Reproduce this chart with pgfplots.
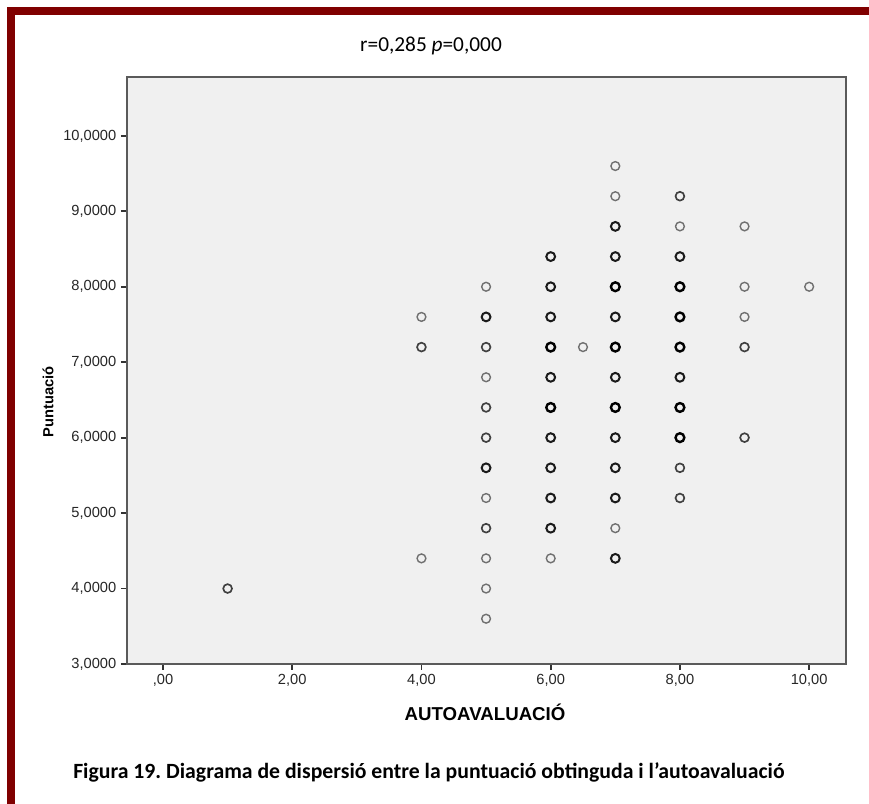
\documentclass[border=0pt]{standalone}
\usepackage{pgfplots}
\pgfplotsset{compat=1.18}
\usepackage{fontspec}
\setmainfont{Liberation Sans}
\newfontfamily\carlito{Carlito}
\definecolor{framered}{HTML}{800000}
\definecolor{bgc}{HTML}{F0F0F0}
\definecolor{axc}{HTML}{5A5A5A}
\definecolor{lightm}{HTML}{707070}
\definecolor{medm}{HTML}{404040}
\definecolor{darkm}{HTML}{1A1A1A}
\frenchspacing
\begin{document}
\begin{tikzpicture}
\useasboundingbox (0,0) rectangle (651.75pt,603pt);
\fill[framered] (5.25pt,0pt) rectangle (11.25pt,597.75pt);
\fill[framered] (5.25pt,591.75pt) rectangle (651.75pt,597.75pt);
\begin{axis}[
  at={(95.25pt,105pt)}, anchor=south west,
  scale only axis, width=539.25pt, height=440.25pt,
  xmin=-0.557, xmax=10.57, ymin=3, ymax=10.78,
  axis background/.style={fill=bgc},
  axis line style={axc, line width=1.3pt},
  xtick={0,2,4,6,8,10},
  xticklabels={{,00},{2,00},{4,00},{6,00},{8,00},{10,00}},
  ytick={3,4,5,6,7,8,9,10},
  yticklabels={{3,0000},{4,0000},{5,0000},{6,0000},{7,0000},{8,0000},{9,0000},{10,0000}},
  tick align=outside, major tick length=4.5pt,
  xtick pos=lower, ytick pos=left,
  tick style={black!80, line width=1.3pt},
  ticklabel style={font=\fontsize{11}{13}\selectfont, text=black!85},
  title={r=0,285 \textit{p}=0,000},
  title style={at={(axis description cs:0.4228,1.039)}, anchor=center, yshift=0pt, font=\carlito\fontsize{16}{19}\selectfont},
  xlabel={AUTOAVALUACIÓ},
  xlabel style={at={(axis description cs:0.498,-0.0826)}, anchor=center, yshift=0pt, font=\bfseries\fontsize{14}{17}\selectfont},
  ylabel={Puntuació},
  ylabel style={at={(axis description cs:-0.1099,0.4463)}, anchor=center, yshift=0pt, font=\bfseries\fontsize{11}{13}\selectfont},
]
\addplot[only marks, mark=o, mark size=3.3pt, mark options={draw=lightm, line width=1.05pt}] coordinates {
(4,4.4)(4,7.6)(5,3.6)(5,4.0)(5,4.4)(5,5.2)(5,6.8)(5,8.0)(6,4.4)(6.5,7.2)
(7,4.8)(7,9.2)(7,9.6)(8,8.8)(9,7.6)(9,8.0)(9,8.8)(10,8.0)};
\addplot[only marks, mark=o, mark size=3.3pt, mark options={draw=medm, line width=1.25pt}] coordinates {
(1,4.0)(4,7.2)(5,4.8)(5,6.0)(5,6.4)(5,7.2)(8,5.2)(8,5.6)(8,9.2)(9,6.0)(9,7.2)};
\addplot[only marks, mark=o, mark size=3.3pt, mark options={draw=darkm, line width=1.5pt}] coordinates {
(5,5.6)(5,7.6)(6,4.8)(6,5.2)(6,5.6)(6,6.0)(6,6.8)(6,7.6)(6,8.0)(6,8.4)
(7,4.4)(7,5.2)(7,5.6)(7,6.0)(7,6.8)(7,7.6)(7,8.4)(7,8.8)(8,6.8)(8,8.4)};
\addplot[only marks, mark=o, mark size=3.3pt, mark options={draw=black, line width=1.8pt}] coordinates {
(6,6.4)(6,7.2)(7,6.4)(7,7.2)(7,8.0)(8,6.0)(8,6.4)(8,7.2)(8,7.6)(8,8.0)};
\end{axis}
\node[anchor=west, inner sep=0pt, font=\carlito\bfseries\fontsize{16.3}{19}\selectfont] at (54.75pt,24pt) {Figura 19. Diagrama de dispersió entre la puntuació obtinguda i l’autoavaluació};
\end{tikzpicture}
\end{document}
